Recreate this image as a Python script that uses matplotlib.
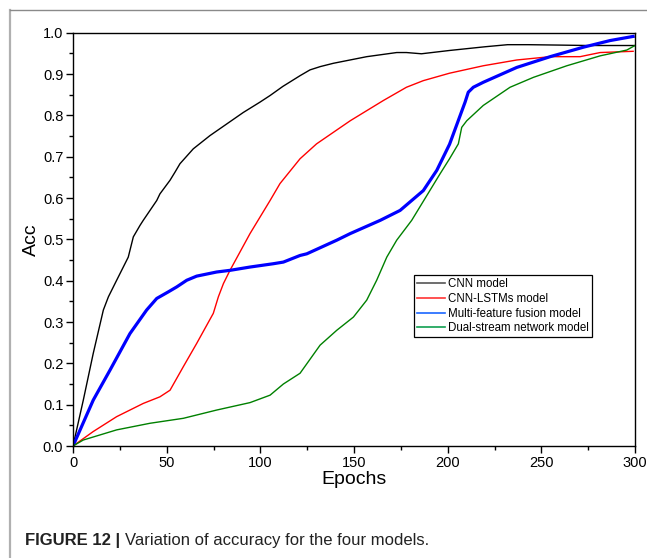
import matplotlib
matplotlib.use("Agg")
import matplotlib.pyplot as plt
from matplotlib.lines import Line2D
from matplotlib.ticker import MultipleLocator

plt.rcParams['font.family'] = ['Liberation Sans', 'DejaVu Sans']

# ---------------- data ----------------
cnn_t = [0, 5.5, 10.8, 16.2, 18.9, 23.3, 29.5, 32.2, 35.8, 37.5, 44.7, 46.4, 51.8, 54.5, 57.1,
         64.2, 73.1, 82, 90.9, 99.8, 105.2, 112, 121.2, 126.5, 132, 139, 156.8, 172.8, 178,
         186, 201, 220, 232, 243, 260, 275, 300]
cnn_v = [0, 0.111, 0.224, 0.329, 0.361, 0.401, 0.457, 0.506, 0.534, 0.546, 0.594, 0.610, 0.643,
         0.663, 0.683, 0.719, 0.751, 0.779, 0.807, 0.832, 0.848, 0.870, 0.896, 0.910, 0.918,
         0.926, 0.942, 0.952, 0.952, 0.949, 0.957, 0.966, 0.971, 0.971, 0.970, 0.969, 0.969]

lstm_t = [0, 10.8, 23.3, 37.5, 46.4, 51.8, 58.9, 66, 74.9, 77.6, 80.3, 83.8, 94.5, 105.2, 110.5,
          121.2, 130, 148, 165.7, 178, 187, 201, 219, 236.9, 254.7, 270.7, 276, 281.4, 299]
lstm_v = [0, 0.035, 0.071, 0.103, 0.119, 0.135, 0.192, 0.248, 0.321, 0.361, 0.393, 0.425, 0.514,
          0.594, 0.635, 0.695, 0.731, 0.787, 0.836, 0.868, 0.884, 0.902, 0.920, 0.934, 0.942,
          0.942, 0.947, 0.952, 0.955]

fusion_t = [0, 10.8, 19.8, 30.4, 39.3, 44.7, 50.9, 55.4, 60.7, 66, 76.7, 83.8, 94.5, 106.9, 112.3,
            121.2, 124.8, 140.8, 148, 164, 174.6, 187, 194.2, 201, 209.3, 211, 213.7, 219, 236.9,
            254.7, 272.5, 286.7, 299]
fusion_v = [0, 0.111, 0.184, 0.272, 0.329, 0.357, 0.373, 0.385, 0.401, 0.411, 0.421, 0.425, 0.433,
            0.441, 0.445, 0.461, 0.465, 0.498, 0.514, 0.546, 0.570, 0.618, 0.667, 0.730, 0.832,
            0.856, 0.868, 0.880, 0.916, 0.942, 0.965, 0.981, 0.991]

dual_t = [0, 5.5, 23.3, 41.1, 58.9, 76.7, 94.5, 105.2, 112.3, 121.2, 131.9, 140.8, 149.7, 156.8,
          162.1, 167.5, 172.8, 180.8, 196, 201, 205.7, 207.5, 210.2, 219, 233.3, 245.8, 263.6,
          281.4, 295.6, 300]
dual_v = [0, 0.0145, 0.039, 0.055, 0.067, 0.087, 0.105, 0.123, 0.150, 0.176, 0.244, 0.280, 0.312,
          0.353, 0.401, 0.457, 0.498, 0.546, 0.659, 0.695, 0.731, 0.771, 0.787, 0.824, 0.868,
          0.892, 0.920, 0.944, 0.958, 0.969]

labels = ["CNN model", "CNN-LSTMs model", "Multi-feature fusion model", "Dual-stream network model"]
x_ticks = [0, 50, 100, 150, 200, 250, 300]
y_ticks = [0.0, 0.1, 0.2, 0.3, 0.4, 0.5, 0.6, 0.7, 0.8, 0.9, 1.0]

# ---------------- figure ----------------
fig = plt.figure(figsize=(6.47, 5.58), dpi=100)
ax = fig.add_axes([73 / 647, 1 - 446 / 558, 562 / 647, 413.3 / 558])

ax.plot(cnn_t, cnn_v, color='black', lw=1.0)
ax.plot(lstm_t, lstm_v, color='#ff0000', lw=1.0)
ax.plot(fusion_t, fusion_v, color='#0000ff', lw=2.3)
ax.plot(dual_t, dual_v, color='#008000', lw=1.0)

ax.set_xlim(0, 300)
ax.set_ylim(0, 1.0)
ax.set_xticks(x_ticks)
ax.set_yticks(y_ticks)
ax.set_xticklabels([str(t) for t in x_ticks])
ax.set_yticklabels([f"{t:.1f}" for t in y_ticks])
ax.xaxis.set_minor_locator(MultipleLocator(25))
ax.yaxis.set_minor_locator(MultipleLocator(0.05))
ax.tick_params(which='major', direction='out', length=5, width=1.0, labelsize=10.5, pad=2)
ax.tick_params(which='minor', direction='out', length=3, width=1.0)
for s in ax.spines.values():
    s.set_linewidth(1.0)

ax.set_xlabel("Epochs", fontsize=14, labelpad=1)
ax.set_ylabel("Acc", fontsize=14, labelpad=2)

handles = [Line2D([], [], color='#555555', lw=1.2),
           Line2D([], [], color='#ff3333', lw=1.2),
           Line2D([], [], color='#1a66ff', lw=1.2),
           Line2D([], [], color='#10a050', lw=1.2)]
leg = ax.legend(handles, labels, loc='upper left', bbox_to_anchor=(0.607, 0.413),
                borderaxespad=0, fontsize=8.3, frameon=True, fancybox=False, edgecolor='black',
                framealpha=1, borderpad=0.25, handlelength=2.4, handletextpad=0.3,
                labelspacing=0.24)
leg.get_frame().set_linewidth(0.9)

# gray outer border (top and left visible)
fig.add_artist(Line2D([10 / 647, 10 / 647], [0, 1 - 10 / 558], transform=fig.transFigure,
                      color='#b0b0b0', lw=1.6))
fig.add_artist(Line2D([10 / 647, 1], [1 - 10 / 558, 1 - 10 / 558], transform=fig.transFigure,
                      color='#8a8a8a', lw=1.0))

# caption
t1 = fig.text(25 / 647, 1 - 541 / 558, "FIGURE 12 | ", fontsize=12, fontweight='bold',
              va='center', ha='left', color='#222222')
fig.canvas.draw()
bb = t1.get_window_extent(renderer=fig.canvas.get_renderer())
x2 = bb.x1 / fig.bbox.width
fig.text(x2, 1 - 541 / 558, "Variation of accuracy for the four models.", fontsize=12,
         va='center', ha='left', color='#222222')

fig.savefig("out.png", dpi=100)
